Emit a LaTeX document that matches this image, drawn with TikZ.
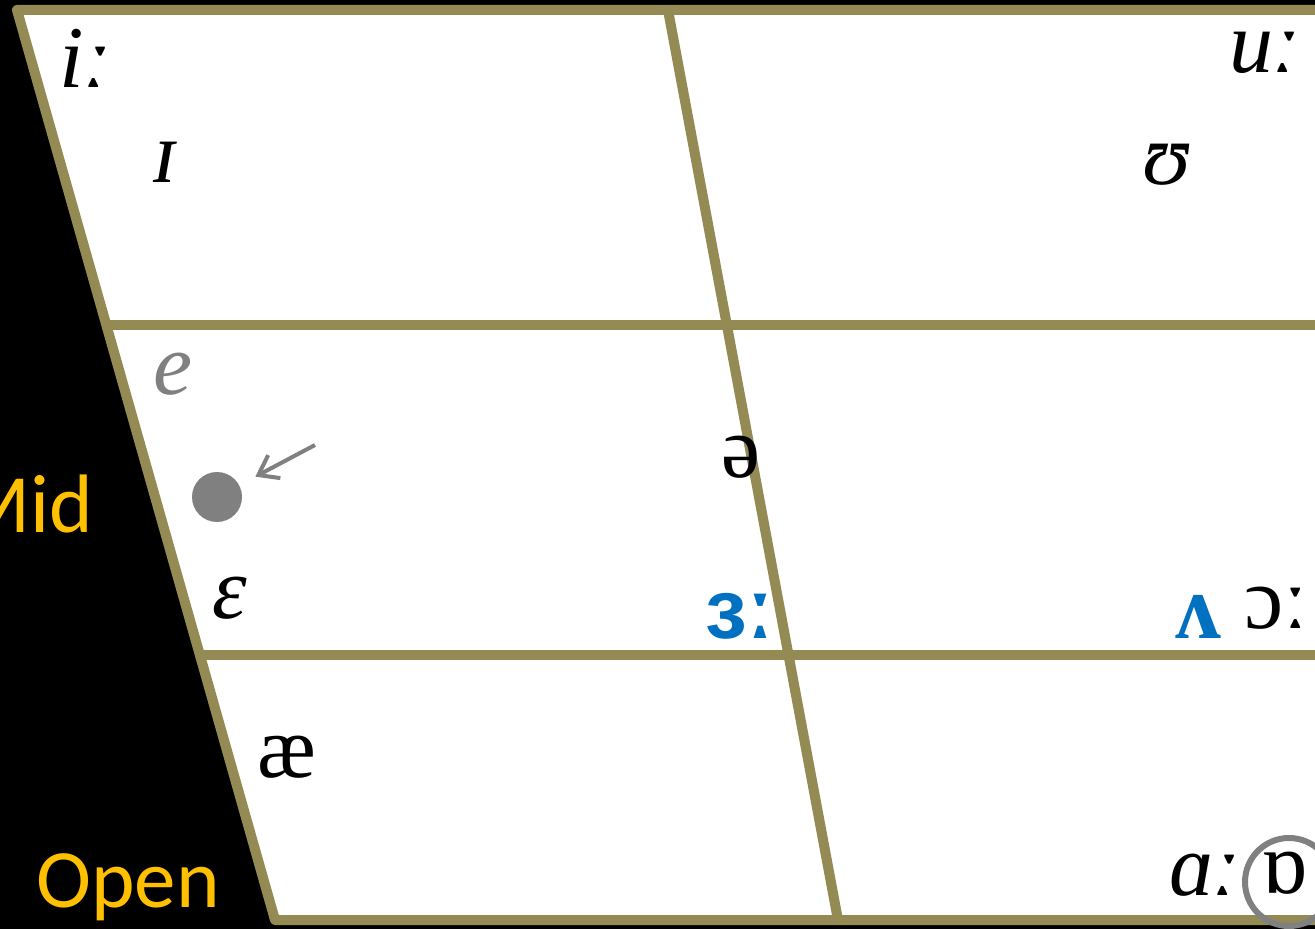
\documentclass[tikz,border=0pt]{standalone}
\usepackage{fontspec}
\setmainfont{Liberation Serif}
\newfontfamily\tagfont{Carlito}
\newfontfamily\boldsans{Liberation Sans}
\usetikzlibrary{arrows.meta}
\definecolor{chartline}{HTML}{948A54}
\definecolor{tagyellow}{HTML}{FFC000}
\definecolor{ipablue}{HTML}{0070C0}

\begin{document}
\begin{tikzpicture}[
        x=0.5pt, y=-0.5pt,
        grid/.style={draw=chartline, line width=5pt, line join=round},
        vowel/.style={inner sep=0pt, anchor=base, font=\fontsize{44}{50}\selectfont},
        ivowel/.style={vowel, font=\fontsize{44}{50}\selectfont\itshape},
        tag/.style={inner sep=0pt, text=tagyellow, font=\tagfont\fontsize{41.5}{50}\selectfont},
        target/.style={circle, fill=gray, minimum size=25pt, inner sep=0pt},
        ring/.style={circle, draw=gray, line width=3pt, minimum size=44pt, inner sep=0pt},
        pointer/.style={-{Straight Barb[length=9pt, width=13pt]}, draw=gray, line width=2pt, shorten >=9pt}
    ]
    \useasboundingbox (0,0) rectangle (1315,929);
    \clip (0,0) rectangle (1315,929);
    \fill[black] (0,0) rectangle (1315,929);
    \fill[white] (17,10) -- (1340,10) -- (1340,920) -- (275,920) -- cycle;

    % chart grid
    \draw[grid] (1340,10) -- (17,10) -- (275,920) -- (1340,920);
    \draw[grid] (668,10) -- (838,920);
    \draw[grid] (106,325) -- (1340,325);
    \draw[grid] (200,655) -- (1340,655);

    % height labels
    \node[tag, anchor=base east] (mid) at (94,532) {Mid};
    \node[tag, anchor=base west] (open) at (36,907) {Open};

    % vowels
    \node[ivowel] (longi) at (84,88) {iː};
    \node[ivowel] (shorti) at (165,183) {ɪ};
    \node[ivowel] (longu) at (1264,73) {uː};
    \node[ivowel] (shortu) at (1166,185) {ʊ};
    \node[ivowel, text=gray] (close_e) at (173,395) {e};
    \node[ivowel] (open_e) at (230,618) {ɛ};
    \node[vowel] (ash) at (287,777) {æ};
    \node[vowel] (schwa) at (741,478) {ə};
    \node[vowel, text=ipablue, font=\boldsans\bfseries\fontsize{42}{50}\selectfont] (nurse) at (740,638) {ɜː};
    \node[vowel, text=ipablue, font=\bfseries\fontsize{46}{50}\selectfont] (wedge) at (1198,638) {ʌ};
    \node[vowel] (longo) at (1276,628) {ɔː};
    \node[ivowel] (longa) at (1204,895) {ɑː};
    \node[vowel] (lot) at (1284,893) {ɒ};
    \node[ring] (lotring) at (1289,882) {};

    % moving dot
    \node[target] (dot) at (217,497) {};
    \coordinate (dotfrom) at (315,445);
    \draw[pointer] (dotfrom) -- (dot);
\end{tikzpicture}
\end{document}
